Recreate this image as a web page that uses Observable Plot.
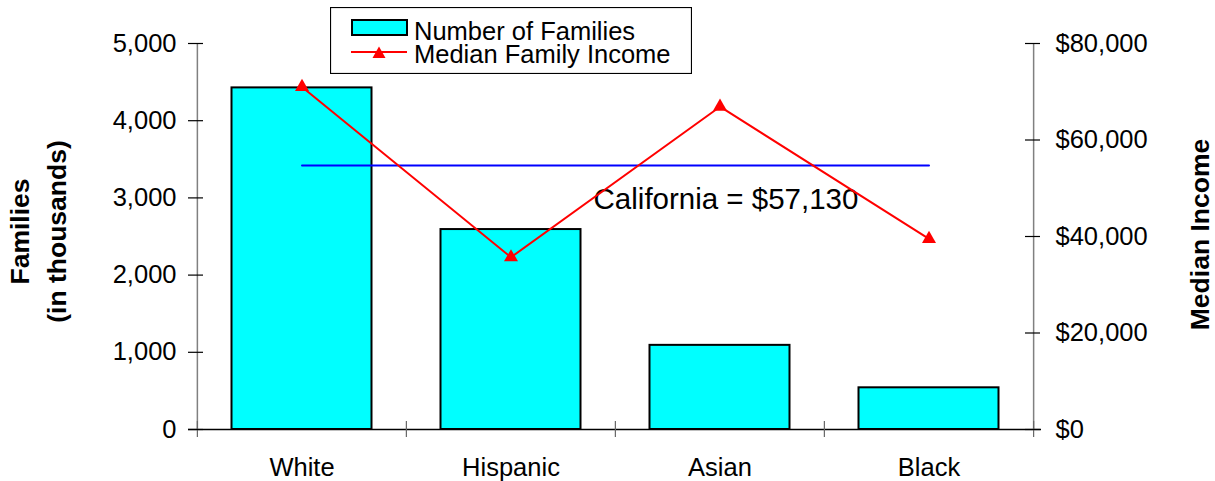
<!DOCTYPE html>
<html><head><meta charset="utf-8">
<script src="https://cdn.jsdelivr.net/npm/d3@7"></script>
<script src="https://cdn.jsdelivr.net/npm/@observablehq/plot@0.6"></script>
<style>
body{margin:0;background:#fff;font-family:"Liberation Sans",Arial,sans-serif;}
#wrap{position:relative;width:1215px;height:481px;}
#legend{position:absolute;left:330px;top:7px;}
#legend text{font-family:"Liberation Sans",Arial,sans-serif;font-size:25.5px;fill:#000;}
</style></head><body><div id="wrap"></div>
<script>
const categories = ["White", "Hispanic", "Asian", "Black"];
const families = [4425, 2590, 1090, 540];          // thousands
const income = [71000, 35700, 66900, 39500];        // dollars
const californiaLineValue = 54700;                  // where the blue line is drawn
const californiaLabel = "California = $57,130";
const familyTicks = [0, 1000, 2000, 3000, 4000, 5000];
const incomeTicks = [0, 20000, 40000, 60000, 80000];
const legendLabels = ["Number of Families", "Median Family Income"];

const data = categories.map((c, i) => ({cat: c, fam: families[i], inc: income[i]}));
const W = 1215, H = 481, ml = 196, mr = 182, mt = 43, mb = 52;
const plotW = W - ml - mr;
const step = plotW / categories.length;
const famMax = 5000, incMax = 80000;
const toY = v => v / incMax * famMax;
const font = "'Liberation Sans', Arial, sans-serif";
const calPts = [categories[0], categories[categories.length - 1]].map(c => ({cat: c, v: californiaLineValue}));

const chart = Plot.plot({
  width: W, height: H,
  marginLeft: ml, marginRight: mr, marginTop: mt, marginBottom: mb,
  style: {fontFamily: font, fontSize: "25px", color: "#000", background: "#fff", overflow: "visible"},
  x: {domain: categories, padding: 0},
  y: {domain: [0, famMax]},
  marks: [
    Plot.barY(data, {x: "cat", y: "fam", fill: "#00FFFF", stroke: "#000", strokeWidth: 2, insetLeft: 34.5, insetRight: 34.5}),
    // axis lines
    Plot.ruleX([categories[0]], {x: d => d, dx: -step / 2, stroke: "#808080", strokeWidth: 1.5}),
    Plot.ruleX([categories[categories.length - 1]], {x: d => d, dx: step / 2, stroke: "#808080", strokeWidth: 1.5}),
    Plot.ruleY([0], {y: d => d, stroke: "#000", strokeWidth: 1.5, insetLeft: -8, insetRight: -8}),
    // category boundary ticks
    Plot.ruleX(categories, {x: d => d, dx: -step / 2, y1: 0, y2: 0, insetTop: -8, insetBottom: -8, stroke: "#666", strokeWidth: 1.2}),
    Plot.ruleX([categories[categories.length - 1]], {x: d => d, dx: step / 2, y1: 0, y2: 0, insetTop: -8, insetBottom: -8, stroke: "#666", strokeWidth: 1.2}),
    // value ticks
    Plot.ruleY(familyTicks, {y: d => d, insetLeft: -8, insetRight: plotW - 7, stroke: "#000", strokeWidth: 1.2}),
    Plot.ruleY(incomeTicks, {y: d => toY(d), insetLeft: plotW - 8, insetRight: -7, stroke: "#000", strokeWidth: 1.2}),
    Plot.axisY(familyTicks, {anchor: "left", tickSize: 0, tickPadding: 20, tickFormat: d3.format(","), label: null, fontSize: 25.5}),
    Plot.axisY(incomeTicks.map(toY), {anchor: "right", tickSize: 0, tickPadding: 22, tickFormat: d => d3.format("$,")(Math.round(d / famMax * incMax)), label: null, fontSize: 25.5}),
    Plot.axisX({tickSize: 0, tickPadding: 28, label: null, fontSize: 25.5}),
    // California reference line
    Plot.line(calPts, {x: "cat", y: d => toY(d.v), stroke: "#0000FF", strokeWidth: 2}),
    Plot.text([californiaLabel], {x: () => "Asian", y: () => toY(californiaLineValue), text: d => d, dx: 6, dy: 43, lineAnchor: "bottom", fontSize: 29.5, fill: "#000"}),
    // income line
    Plot.line(data, {x: "cat", y: d => toY(d.inc), stroke: "#FF0000", strokeWidth: 2}),
    Plot.dot(data, {x: "cat", y: d => toY(d.inc), symbol: "triangle", r: 5.2, fill: "#FF0000", stroke: "none"}),
    // axis titles
    Plot.text(["Families\n(in thousands)"], {text: d => d, frameAnchor: "left", rotate: -90, dx: 35 - ml, dy: -5, lineHeight: 1.42, fontWeight: "bold", fontSize: 26.5, fill: "#000", textAnchor: "middle", lineAnchor: "middle"}),
    Plot.text(["Median Income"], {text: d => d, frameAnchor: "right", rotate: -90, dx: 1200 - (W - mr), dy: -2, fontWeight: "bold", fontSize: 26.5, fill: "#000", textAnchor: "middle", lineAnchor: "middle"})
  ]
});
const wrap = document.getElementById("wrap");
wrap.appendChild(chart);

const legend = document.createElement("div");
legend.id = "legend";
legend.innerHTML = `<svg width="362" height="67" xmlns="http://www.w3.org/2000/svg">
<rect x="0.5" y="0.5" width="361" height="66" fill="#fff" stroke="#000" stroke-width="1.2"/>
<rect x="22" y="13" width="55" height="15" fill="#00FFFF" stroke="#000" stroke-width="2"/>
<text x="84" y="33">${legendLabels[0]}</text>
<line x1="21" x2="77" y1="45" y2="45" stroke="#FF0000" stroke-width="2"/>
<path d="M49,39.5 L55.5,51 L42.5,51 Z" fill="#FF0000"/>
<text x="84" y="56">${legendLabels[1]}</text>
</svg>`;
wrap.appendChild(legend);
</script></body></html>
